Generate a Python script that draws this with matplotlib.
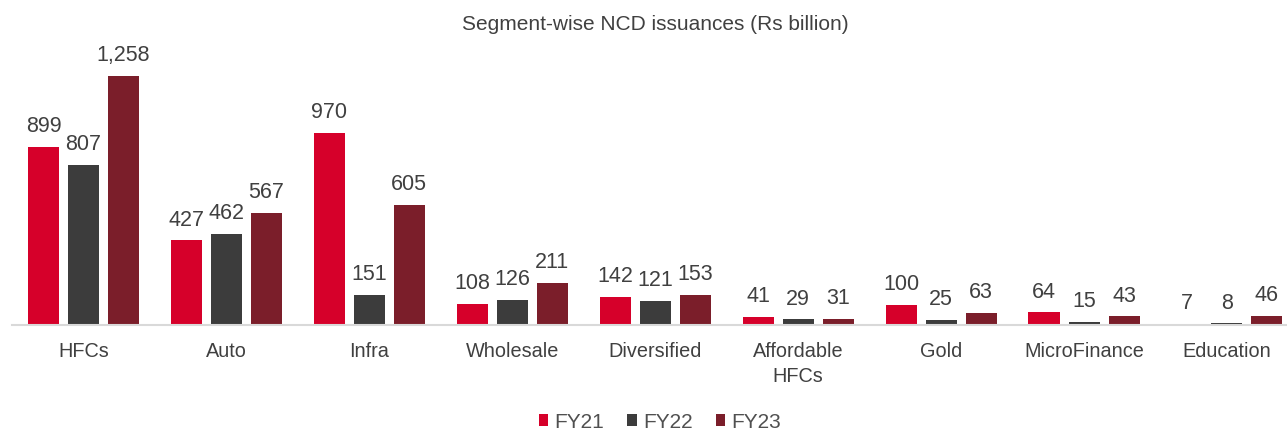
import numpy as np
import matplotlib.pyplot as plt

plt.rcParams['font.family'] = ['Liberation Sans', 'DejaVu Sans']

categories = ['HFCs', 'Auto', 'Infra', 'Wholesale', 'Diversified',
              'Affordable\nHFCs', 'Gold', 'MicroFinance', 'Education']
fy21 = [899, 427, 970, 108, 142, 41, 100, 64, 7]
fy22 = [807, 462, 151, 126, 121, 29, 25, 15, 8]
fy23 = [1258, 567, 605, 211, 153, 31, 63, 43, 46]
series = ['FY21', 'FY22', 'FY23']
colors = ['#D6002A', '#3C3C3C', '#7B1E2A']

fig = plt.figure(figsize=(12.87, 4.30), dpi=100)
ax = fig.add_axes([12 / 1287, 105 / 430, 1 - 12 / 1287, 280 / 430])

x = np.arange(len(categories))
w = 0.217
step = 0.28
for k, (vals, name, col) in enumerate(zip([fy21, fy22, fy23], series, colors)):
    pos = x + (k - 1) * step
    bars = ax.bar(pos, vals, w, color=col, label=name)
    for p, v in zip(pos, vals):
        ax.annotate(f'{v:,}', (p, v), xytext=(0, 7), textcoords='offset points',
                    ha='center', va='bottom', fontsize=15.5, color='#404040')

ax.set_xlim(-0.5, 8.42)
ax.set_ylim(0, 280 / 0.198)
ax.set_xticks(x)
ax.set_xticklabels(categories, fontsize=14.3, color='#404040', linespacing=1.45)
ax.tick_params(axis='x', length=0, pad=12)
ax.set_yticks([])
for s in ['top', 'right', 'left']:
    ax.spines[s].set_visible(False)
ax.spines['bottom'].set_color('#D9D9D9')
ax.spines['bottom'].set_linewidth(1.5)

fig.text(655 / 1287, 1 - 25 / 430, 'Segment-wise NCD issuances (Rs billion)',
         ha='center', va='center', fontsize=15, color='#404040')

fig.legend(loc='center', bbox_to_anchor=(660 / 1287, 8 / 430), ncol=3, frameon=False,
           fontsize=15, handlelength=0.45, handleheight=0.45, handletextpad=0.3,
           columnspacing=1.1, labelcolor='#505050')

fig.savefig('out.png', dpi=100)
